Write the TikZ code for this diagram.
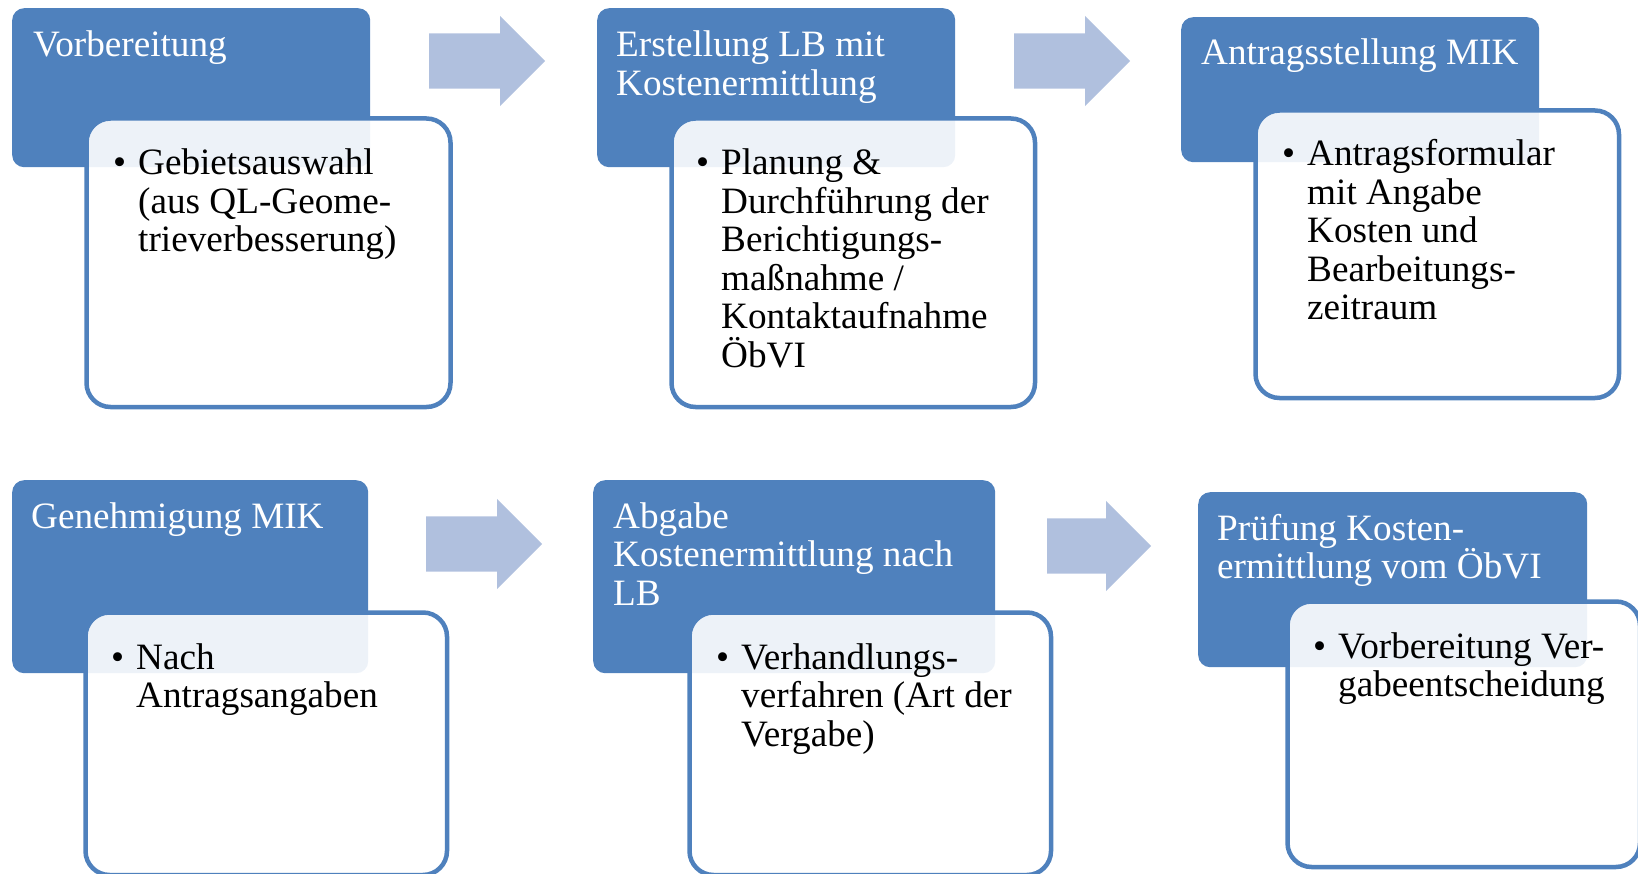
\documentclass[tikz,border=0pt]{standalone}
\usepackage{fontspec}
\setmainfont{Liberation Serif}
\usepackage{tikz}
\usetikzlibrary{shapes.arrows}
\definecolor{stepblue}{RGB}{79,129,189}
\definecolor{arrowblue}{RGB}{176,192,222}
\tikzstyle{headbox}=[rectangle, rounded corners=12pt, fill=stepblue, anchor=north west, inner sep=0pt]
\tikzstyle{itembox}=[rectangle, rounded corners=24pt, draw=stepblue, line width=4.5pt, fill=white, fill opacity=0.9, anchor=north west, inner sep=0pt]
\tikzstyle{flowarrow}=[single arrow, fill=arrowblue, inner sep=0pt, text height=27.5pt, text depth=27.5pt, single arrow head extend=17.5pt, single arrow tip angle=90, anchor=tail]
\tikzstyle{headtext}=[anchor=base west, inner sep=0pt, text=white]
\tikzstyle{itemtext}=[anchor=base west, inner sep=0pt, text=black]
\newcommand{\headlines}[1]{\begin{tabular}[t]{@{}l@{}}#1\end{tabular}}
\newcommand{\itemlines}[1]{\begin{tabular}[t]{@{}l@{}l@{}}#1\end{tabular}}
\newcommand{\dotitem}{\makebox[25pt][l]{\textbullet}}

\begin{document}
\begin{tikzpicture}[x=1pt, y=-1pt, font=\fontsize{37.2}{38.5}\selectfont]
		   \useasboundingbox (0,0) rectangle (1638,874);
		   \begin{scope}
			   \node (h1) at (12, 8)[headbox, minimum width=358pt, minimum height=159pt] {};
			   \node (h2) at (597, 8)[headbox, minimum width=358pt, minimum height=159pt] {};
			   \node (h3) at (1181, 17)[headbox, minimum width=358pt, minimum height=145pt] {};
			   \node (h4) at (12, 480)[headbox, minimum width=356pt, minimum height=193pt] {};
			   \node (h5) at (593, 480)[headbox, minimum width=402pt, minimum height=193pt] {};
			   \node (h6) at (1198, 492)[headbox, minimum width=389pt, minimum height=175pt] {};
		   \end{scope}
		   \begin{scope}
			   \node (t1) at (33, 57)[headtext] {\headlines{Vorbereitung}};
			   \node (t2) at (616, 57)[headtext] {\headlines{Erstellung LB mit\\Kostenermittlung}};
			   \node (t3) at (1201, 65)[headtext] {\headlines{Antragsstellung MIK}};
			   \node (t4) at (31, 528)[headtext] {\headlines{Genehmigung MIK}};
			   \node (t5) at (613, 528)[headtext] {\headlines{Abgabe\\Kostenermittlung nach\\LB}};
			   \node (t6) at (1217, 540)[headtext] {\headlines{Prüfung Kosten-\\ermittlung vom \smash{Ö}bVI}};
		   \end{scope}
		   \begin{scope}
			   \node (w1) at (84.25, 116.25)[itembox, minimum width=364pt, minimum height=288.5pt] {};
			   \node (w2) at (669.25, 116.25)[itembox, minimum width=363.5pt, minimum height=288.5pt] {};
			   \node (w3) at (1253.25, 108.25)[itembox, minimum width=363.5pt, minimum height=287.5pt] {};
			   \node (w4) at (83.25, 610.25)[itembox, minimum width=361.5pt, minimum height=262.5pt] {};
			   \node (w5) at (687.25, 610.25)[itembox, minimum width=361.5pt, minimum height=262.5pt] {};
			   \node (w6) at (1285.25, 599.25)[itembox, minimum width=352.5pt, minimum height=265.5pt] {};
		   \end{scope}
		   \begin{scope}
			   \node (i1) at (113, 175)[itemtext] {\itemlines{\dotitem & Gebietsauswahl\\ & (aus QL-Geome-\\ & trieverbesserung)}};
			   \node (i2) at (696, 175)[itemtext] {\itemlines{\dotitem & Planung \&\\ & Durchführung der\\ & Berichtigungs-\\ & maßnahme /\\ & Kontaktaufnahme\\ & \smash{Ö}bVI}};
			   \node (i3) at (1282, 166)[itemtext] {\itemlines{\dotitem & Antragsformular\\ & mit Angabe\\ & Kosten und\\ & Bearbeitungs-\\ & zeitraum}};
			   \node (i4) at (111, 669)[itemtext] {\itemlines{\dotitem & Nach\\ & Antragsangaben}};
			   \node (i5) at (716, 669)[itemtext] {\itemlines{\dotitem & Verhandlungs-\\ & verfahren (Art der\\ & Vergabe)}};
			   \node (i6) at (1313, 658)[itemtext] {\itemlines{\dotitem & Vorbereitung Ver-\\ & gabeentscheidung}};
		   \end{scope}
		   \begin{scope}
			   \node (a1) at (429, 61)[flowarrow, minimum height=116pt] {};
			   \node (a2) at (1014, 61)[flowarrow, minimum height=116pt] {};
			   \node (a4) at (426, 544)[flowarrow, minimum height=116pt] {};
			   \node (a5) at (1047, 546)[flowarrow, minimum height=104pt] {};
		   \end{scope}
	   \end{tikzpicture}
\end{document}
